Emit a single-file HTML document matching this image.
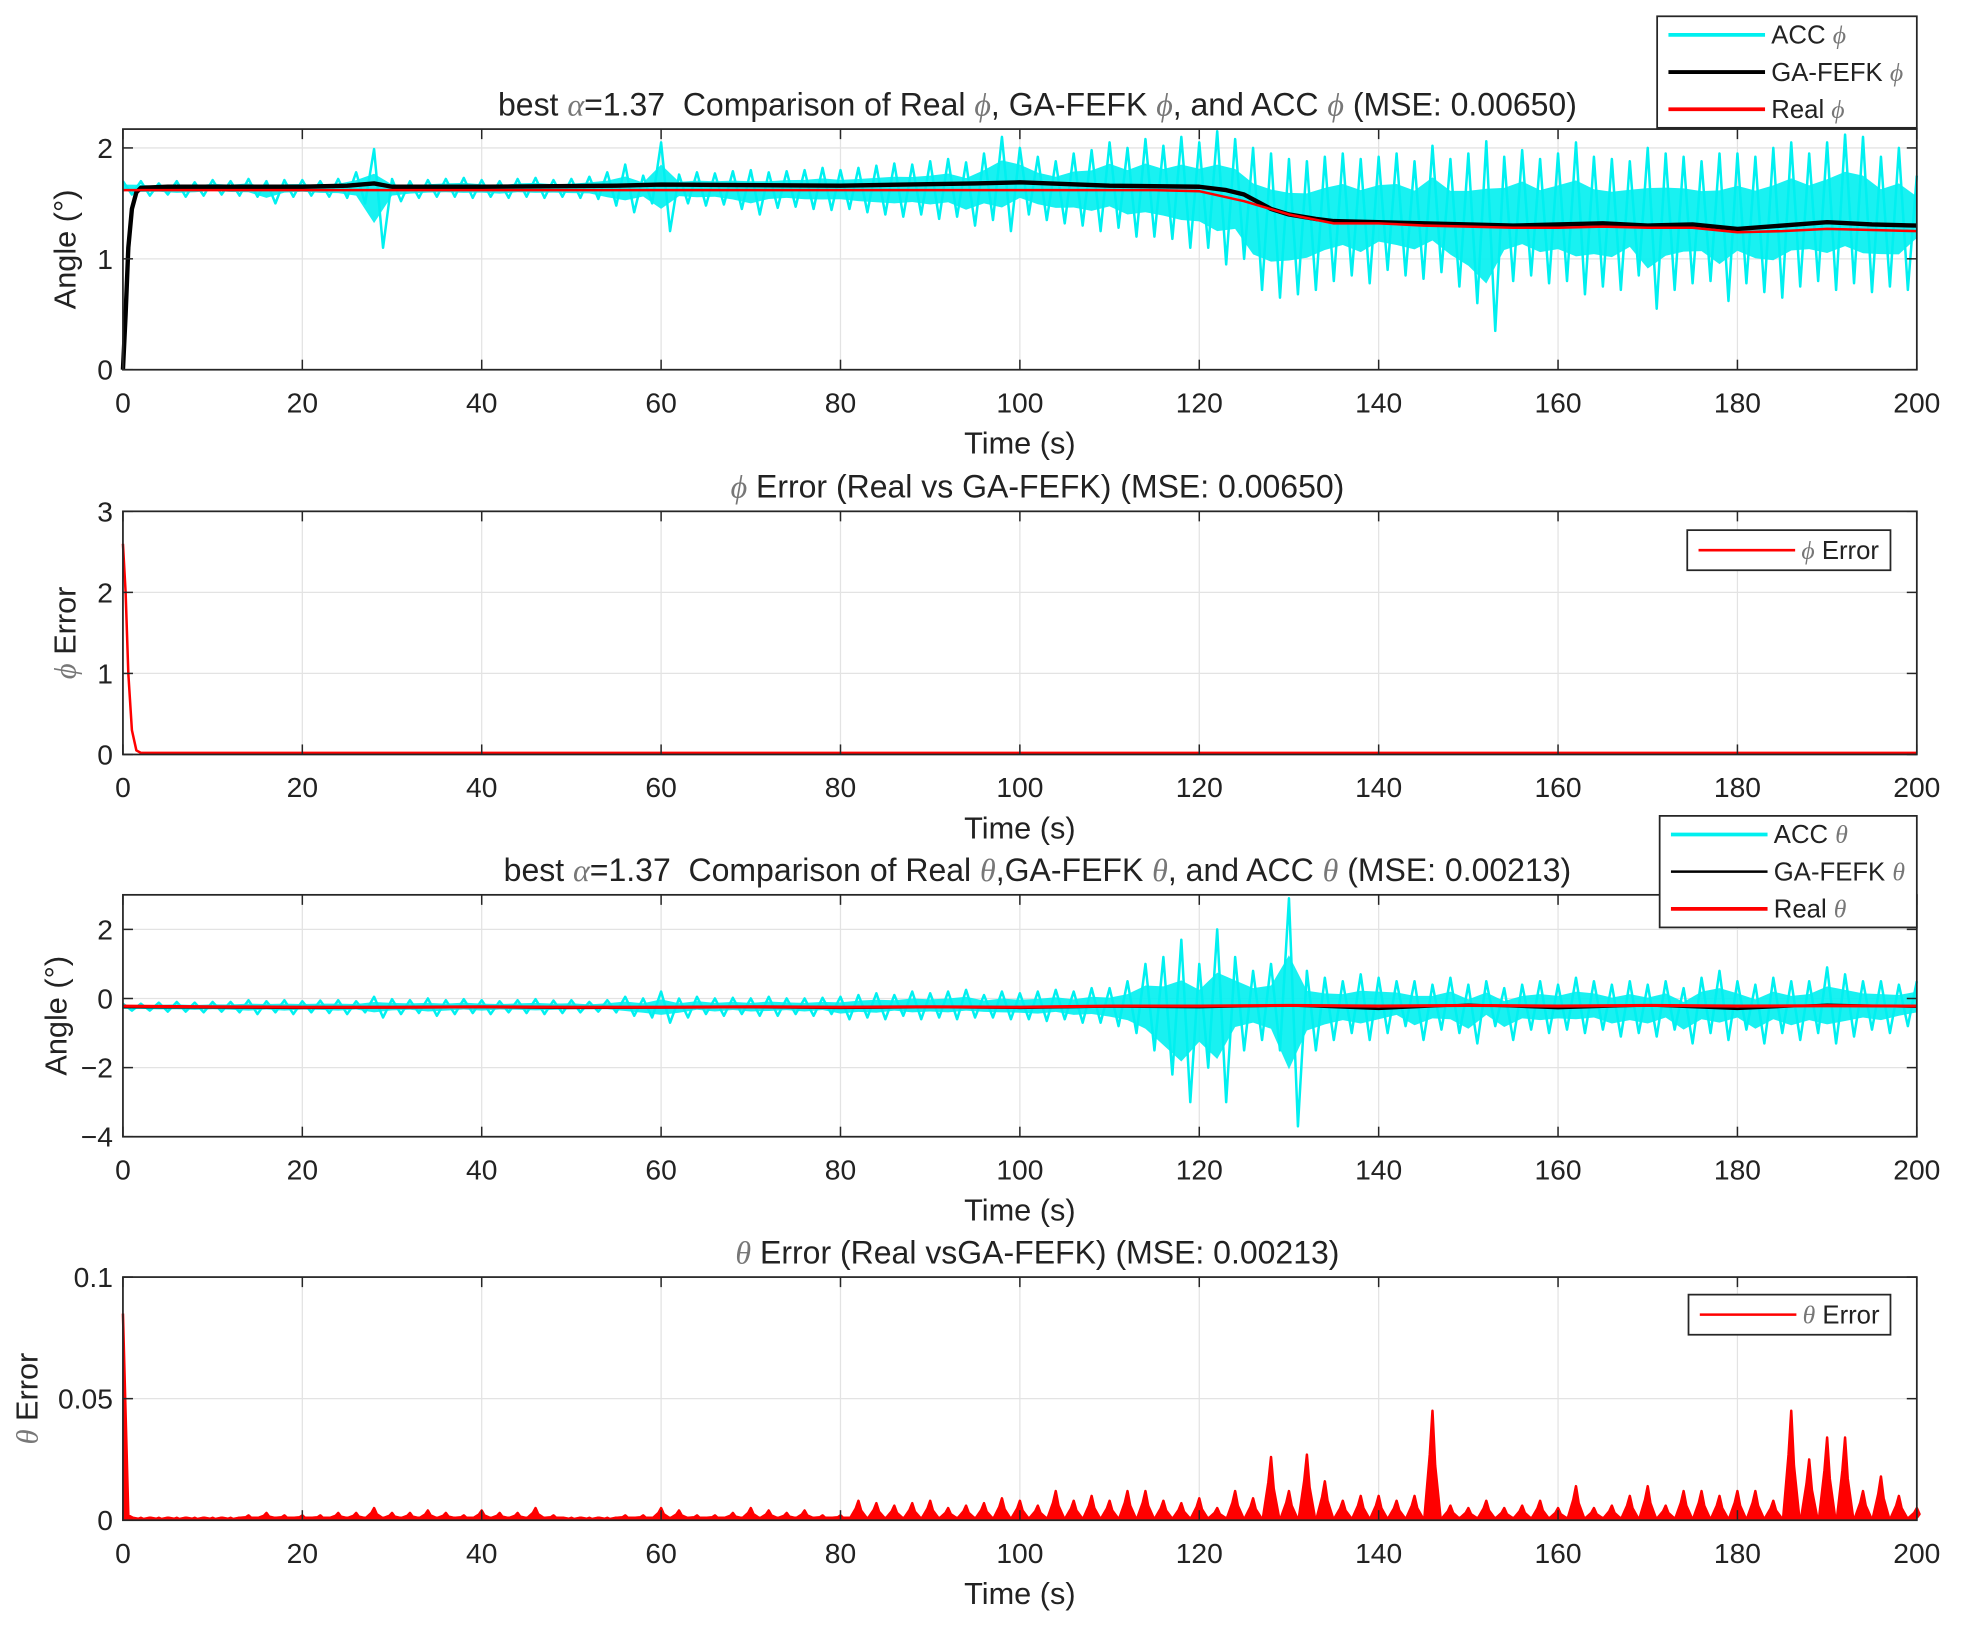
<!DOCTYPE html>
<html><head><meta charset="utf-8">
<style>
html,body{margin:0;padding:0;background:#fff;}
svg{display:block;}
text{font-family:"Liberation Sans",sans-serif;fill:#222;}
</style></head>
<body>
<svg id="fig" width="1967" height="1628" viewBox="0 0 1568 1299" preserveAspectRatio="none" xmlns="http://www.w3.org/2000/svg"></svg>
<script>
// ---------- DATA ----------
const xTicks = [0,20,40,60,80,100,120,140,160,180,200];
const phiYTicks = [0,1,2];
const errPhiYTicks = [0,1,2,3];
const thetaYTicks = [-4,-2,0,2];
const errThetaYTicks = [0,0.05,0.1];
const errThetaTickLabels = ['0','0.05','0.1'];

// ACC phi envelope (hi/lo) sampled every 2 s from 0..200
const accPhiHi = [1.70,1.70,1.68,1.70,1.69,1.71,1.70,1.72,1.70,1.71,
 1.71,1.70,1.72,1.78,1.99,1.72,1.70,1.71,1.72,1.73,
 1.71,1.70,1.72,1.73,1.71,1.72,1.74,1.78,1.85,1.75,
 2.05,1.76,1.78,1.77,1.79,1.80,1.78,1.79,1.80,1.82,
 1.80,1.82,1.84,1.86,1.85,1.88,1.90,1.87,1.95,2.10,
 2.00,1.92,1.88,1.95,1.98,2.05,2.00,2.08,2.02,2.10,
 2.05,2.15,2.08,2.00,1.95,1.90,1.88,1.92,1.95,1.90,
 1.92,1.95,1.88,2.02,1.90,1.95,2.06,1.92,1.98,1.90,
 1.95,2.05,1.92,1.90,1.88,2.00,1.95,1.92,1.88,1.95,
 1.95,1.92,2.00,2.05,1.95,2.05,2.12,2.10,1.92,2.00,1.75];
const accPhiLo = [1.58,1.57,1.58,1.56,1.57,1.58,1.57,1.56,1.50,1.56,
 1.57,1.56,1.55,1.50,1.10,1.52,1.55,1.56,1.56,1.55,
 1.56,1.55,1.56,1.55,1.56,1.55,1.54,1.48,1.42,1.50,
 1.25,1.50,1.48,1.49,1.45,1.40,1.46,1.47,1.45,1.44,
 1.45,1.42,1.40,1.38,1.40,1.36,1.38,1.30,1.35,1.25,
 1.40,1.35,1.32,1.30,1.25,1.28,1.20,1.20,1.18,1.10,
 1.10,0.95,1.00,0.72,0.65,0.68,0.72,0.80,0.85,0.78,
 0.90,0.85,0.82,0.88,0.75,0.60,0.35,0.80,0.85,0.78,
 0.80,0.68,0.75,0.72,0.85,0.55,0.72,0.78,0.80,0.62,
 0.78,0.70,0.65,0.75,0.80,0.72,0.78,0.70,0.75,0.72,1.00];
// Real phi every 5 s
const realPhi = [1.62,1.62,1.62,1.62,1.62,1.62,1.62,1.62,1.62,1.62,1.62,1.62,1.62,1.62,1.62,1.62,1.62,1.62,1.62,1.62,1.62,1.62,1.62,1.62,
 1.61,1.52,1.40,1.32,1.32,1.30,1.29,1.28,1.28,1.29,1.28,1.28,1.24,1.25,1.27,1.26,1.25];
// GA-FEFK phi
const gaPhiT = [0,0.3,0.6,1,1.5,2,5,10,20,25,28,30,40,55,60,80,95,100,110,120,123,125,128,130,133,135,140,145,150,155,160,165,170,175,180,185,190,195,200];
const gaPhiV = [0,0.5,1.1,1.45,1.6,1.64,1.65,1.65,1.65,1.66,1.68,1.65,1.65,1.66,1.67,1.66,1.68,1.69,1.66,1.65,1.62,1.58,1.45,1.40,1.36,1.34,1.33,1.32,1.31,1.30,1.31,1.32,1.30,1.31,1.27,1.30,1.33,1.31,1.30];
// phi error
const errPhiT = [0,0.3,0.6,1,1.5,2,200];
const errPhiV = [2.6,2.0,1.0,0.3,0.05,0.02,0.02];

// ACC theta envelope every 2 s
const accThHi = [-0.15,-0.15,-0.12,-0.10,-0.12,-0.10,-0.10,-0.05,-0.08,-0.05,
 -0.08,-0.06,-0.05,-0.08,0.05,-0.02,-0.05,0.00,-0.05,-0.02,
 -0.05,-0.08,-0.05,-0.02,-0.06,-0.05,-0.10,-0.05,0.05,0.00,
 0.20,0.00,0.05,0.00,0.02,0.00,0.05,0.00,0.00,0.02,
 0.05,0.10,0.15,0.10,0.20,0.15,0.20,0.25,0.10,0.20,
 0.15,0.20,0.25,0.20,0.30,0.30,0.50,1.00,1.20,1.70,
 1.00,2.00,1.20,0.80,1.00,2.90,0.80,0.60,0.50,0.70,
 0.60,0.50,0.50,0.40,0.60,0.40,0.50,0.30,0.40,0.50,
 0.40,0.60,0.50,0.40,0.50,0.40,0.50,0.30,0.60,0.80,
 0.50,0.40,0.60,0.50,0.50,0.90,0.70,0.50,0.50,0.40,0.50];
const accThLo = [-0.35,-0.35,-0.38,-0.38,-0.40,-0.38,-0.40,-0.45,-0.40,-0.45,
 -0.40,-0.42,-0.45,-0.40,-0.55,-0.45,-0.42,-0.50,-0.45,-0.42,
 -0.45,-0.40,-0.42,-0.45,-0.42,-0.40,-0.38,-0.40,-0.50,-0.55,
 -0.70,-0.55,-0.45,-0.50,-0.45,-0.50,-0.50,-0.45,-0.50,-0.45,
 -0.60,-0.55,-0.60,-0.50,-0.60,-0.55,-0.60,-0.55,-0.55,-0.60,
 -0.60,-0.65,-0.60,-0.70,-0.70,-0.80,-1.00,-1.50,-2.20,-3.00,
 -2.00,-3.00,-1.50,-1.20,-1.50,-3.70,-1.50,-1.20,-1.00,-1.20,
 -1.00,-0.80,-1.20,-0.90,-1.00,-1.30,-0.80,-1.20,-0.90,-1.00,
 -0.90,-1.00,-0.90,-1.10,-1.00,-1.10,-0.90,-1.30,-1.00,-1.20,
 -0.90,-1.30,-1.00,-1.20,-1.00,-1.30,-1.10,-0.90,-1.00,-0.80,-0.70];
// Real / GA theta every 10 s
const realTheta = [-0.22,-0.24,-0.25,-0.25,-0.24,-0.25,-0.25,-0.24,-0.25,-0.24,-0.25,-0.22,-0.22,-0.20,-0.22,-0.20,-0.22,-0.20,-0.22,-0.21,-0.22];
const gaTheta = [-0.25,-0.26,-0.27,-0.26,-0.25,-0.27,-0.26,-0.25,-0.27,-0.25,-0.27,-0.23,-0.25,-0.20,-0.30,-0.18,-0.28,-0.20,-0.30,-0.18,-0.24];
// theta error every 2 s
const errTheta = [0.085,0.001,0.001,0.001,0.001,0.001,0.001,0.002,0.003,0.002,
 0.002,0.002,0.003,0.003,0.005,0.003,0.003,0.004,0.003,0.002,
 0.004,0.003,0.003,0.005,0.002,0.001,0.001,0.001,0.002,0.002,
 0.005,0.004,0.002,0.002,0.003,0.005,0.004,0.003,0.004,0.002,
 0.002,0.008,0.007,0.006,0.007,0.008,0.005,0.006,0.007,0.009,
 0.008,0.006,0.012,0.008,0.010,0.008,0.012,0.012,0.008,0.007,
 0.009,0.005,0.012,0.009,0.026,0.012,0.027,0.016,0.008,0.010,
 0.010,0.008,0.010,0.045,0.006,0.005,0.008,0.005,0.006,0.008,
 0.005,0.014,0.005,0.006,0.010,0.014,0.006,0.012,0.012,0.010,
 0.012,0.012,0.008,0.045,0.025,0.034,0.034,0.012,0.018,0.010,0.005];

// ---------- DRAW ----------
const NS='http://www.w3.org/2000/svg';
const svg=document.getElementById('fig');
function mk(tag,attrs,parent){const e=document.createElementNS(NS,tag);for(const k in attrs)e.setAttribute(k,attrs[k]);(parent||svg).appendChild(e);return e;}
const X0=98,X1=1528;
function makeAxes(name,top,bot,ymin,ymax,yt,ytl,title,ylabel,ylabelX){
  const g=mk('g',{});
  
  
  const sx=t=>X0+(t-0)/200*(X1-X0);
  const sy=v=>bot-(v-ymin)/(ymax-ymin)*(bot-top);
  xTicks.forEach(t=>{mk('line',{x1:sx(t),x2:sx(t),y1:top,y2:bot,stroke:'#e3e3e3','stroke-width':1},g);});
  yt.forEach(v=>{mk('line',{x1:X0,x2:X1,y1:sy(v),y2:sy(v),stroke:'#e3e3e3','stroke-width':1},g);});
  const plot=mk('g',{},g);
  const axes=mk('g',{},g);
  mk('rect',{x:X0,y:top,width:X1-X0,height:bot-top,fill:'none',stroke:'#262626','stroke-width':1.4},axes);
  xTicks.forEach(t=>{
    mk('line',{x1:sx(t),x2:sx(t),y1:bot,y2:bot-8,stroke:'#262626','stroke-width':1.2},axes);
    mk('line',{x1:sx(t),x2:sx(t),y1:top,y2:top+8,stroke:'#262626','stroke-width':1.2},axes);
    const tx=mk('text',{x:sx(t),y:bot+34,'text-anchor':'middle','font-size':22.5},axes);
    
    
    tx.textContent=t;
  });
  yt.forEach((v,i)=>{
    mk('line',{x1:X0,x2:X0+8,y1:sy(v),y2:sy(v),stroke:'#262626','stroke-width':1.2},axes);
    mk('line',{x1:X1,x2:X1-8,y1:sy(v),y2:sy(v),stroke:'#262626','stroke-width':1.2},axes);
    const tx=mk('text',{x:X0-8,y:sy(v)+8,'text-anchor':'end','font-size':22.5},axes);
    
    
    tx.textContent=ytl?ytl[i]:(v<0?'\u2212'+(-v):v);
  });
  const xl=mk('text',{x:(X0+X1)/2,y:bot+67,'text-anchor':'middle','font-size':24.5},g);
  
  
  xl.textContent='Time (s)';
  const tt=mk('text',{x:(X0+X1)/2+14,y:top-11,'text-anchor':'middle','font-size':25.5},g);
  
  
  tt.innerHTML=title;
  const yl=mk('text',{x:ylabelX,y:(top+bot)/2,'text-anchor':'middle','font-size':24.5,transform:`rotate(-90 ${ylabelX} ${(top+bot)/2})`},g);
  
  
  yl.innerHTML=ylabel;
  return {g,plot,sx,sy};
}
function line(ax,pts,color,w,name){
  const d=pts.map((p,i)=>(i?'L':'M')+ax.sx(p[0]).toFixed(2)+' '+ax.sy(p[1]).toFixed(2)).join('');
  const p=mk('path',{d,fill:'none',stroke:color,'stroke-width':w,'stroke-linejoin':'round'},ax.plot);
  
  
  return p;
}
function band(ax,hi,lo,step,color,op,name){
  const up=hi.map((h,i)=>[i*step,h]);
  const dn=lo.map((l,i)=>[i*step,l]).reverse();
  const pts=up.concat(dn);
  const d=pts.map((p,i)=>(i?'L':'M')+ax.sx(p[0]).toFixed(2)+' '+ax.sy(p[1]).toFixed(2)).join('')+'Z';
  const p=mk('path',{d,fill:color,'fill-opacity':op,stroke:'none'},ax.plot);
  
  
}
function zig(hi,lo,step){
  const pts=[];
  hi.forEach((h,i)=>{const t=i*step;pts.push([t,h]);if(i<hi.length-1)pts.push([Math.min(200,t+step/2),lo[i]]);});
  return pts;
}
function legend(x,y,w,h,entries,name){
  const g=mk('g',{});
  
  
  mk('rect',{x,y,width:w,height:h,fill:'#fff',stroke:'#262626','stroke-width':1.4},g);
  entries.forEach((e,i)=>{
    const cy=y+(h/entries.length)*(i+0.5);
    mk('line',{x1:x+9,x2:x+86,y1:cy,y2:cy,stroke:e.c,'stroke-width':e.w},g);
    const t=mk('text',{x:x+91,y:cy+7,'font-size':20.5},g);
    
    
    t.innerHTML=e.t;
  });
}
const phiS='<tspan font-family="Liberation Serif" font-style="italic" fill="#777">\u03d5</tspan>';
const thS='<tspan font-family="Liberation Serif" font-style="italic" fill="#777">\u03b8</tspan>';
const alS='<tspan font-family="Liberation Serif" font-style="italic" fill="#777">\u03b1</tspan>';

// Plot 1
const a1=makeAxes('phi-comparison-chart',103,295,0,2.17,phiYTicks,null,
 `best ${alS}=1.37\u00a0\u00a0Comparison of Real ${phiS}, GA-FEFK ${phiS}, and ACC ${phiS} (MSE: 0.00650)`,'Angle (°)',60);
band(a1,accPhiHi.map((h,i)=>h-(h-accPhiLo[i])*0.25),accPhiLo.map((l,i)=>l+(accPhiHi[i]-l)*0.25),2,'#00f0f0',0.9,'acc-phi-band');
line(a1,zig(accPhiHi,accPhiLo,2),'#00f0f0',2,'acc-phi-line');
line(a1,gaPhiT.map((t,i)=>[t,gaPhiV[i]]),'#000',3.5,'ga-fefk-phi-line');
line(a1,realPhi.map((v,i)=>[i*5,v]),'#ff0000',2,'real-phi-line');
legend(1321,13,207,89,[{c:'#00f0f0',w:3,t:'ACC '+phiS},{c:'#000',w:3,t:'GA-FEFK '+phiS},{c:'#ff0000',w:3,t:'Real '+phiS}],'phi-legend');

// Plot 2
const a2=makeAxes('phi-error-chart',408,602,0,3,errPhiYTicks,null,
 `${phiS} Error (Real vs GA-FEFK) (MSE: 0.00650)`,phiS+' Error',60);
line(a2,errPhiT.map((t,i)=>[t,errPhiV[i]]),'#ff0000',2,'phi-error-line');
legend(1345,423,162,32,[{c:'#ff0000',w:2,t:phiS+' Error'}],'phi-error-legend');

// Plot 3
const a3=makeAxes('theta-comparison-chart',714,907,-4,3,thetaYTicks,null,
 `best ${alS}=1.37\u00a0\u00a0Comparison of Real ${thS},GA-FEFK ${thS}, and ACC ${thS} (MSE: 0.00213)`,'Angle (°)',53);
band(a3,accThHi.map((h,i)=>h-(h-accThLo[i])*0.25),accThLo.map((l,i)=>l+(accThHi[i]-l)*0.25),2,'#00f0f0',0.9,'acc-theta-band');
line(a3,zig(accThHi,accThLo,2),'#00f0f0',2,'acc-theta-line');
line(a3,gaTheta.map((v,i)=>[i*10,v]),'#000',2,'ga-fefk-theta-line');
line(a3,realTheta.map((v,i)=>[i*10,v]),'#ff0000',2.5,'real-theta-line');
legend(1323,651,205,89,[{c:'#00f0f0',w:3,t:'ACC '+thS},{c:'#000',w:2,t:'GA-FEFK '+thS},{c:'#ff0000',w:3,t:'Real '+thS}],'theta-legend');

// Plot 4
const a4=makeAxes('theta-error-chart',1019,1213,0,0.1,errThetaYTicks,errThetaTickLabels,
 `${thS} Error (Real vsGA-FEFK) (MSE: 0.00213)`,thS+' Error',30);
(function(){
  const pts=[[0,errTheta[0]],[0.6,0.002]];
  errTheta.forEach((v,i)=>{if(i===0)return;const t=i*2;pts.push([t-0.9,0.001]);pts.push([t-0.3,v*0.6]);pts.push([t,v]);pts.push([t+0.3,v*0.5]);pts.push([Math.min(200,t+0.9),0.001]);});
  const d=pts.map((p,i)=>(i?'L':'M')+a4.sx(p[0]).toFixed(2)+' '+a4.sy(p[1]).toFixed(2)).join('')+'L'+a4.sx(200)+' '+a4.sy(0)+'L'+a4.sx(0)+' '+a4.sy(0)+'Z';
  const f=mk('path',{d,fill:'#ff0000',stroke:'none'},a4.plot);
  
  
  line(a4,pts,'#ff0000',2,'theta-error-line');
})();
legend(1346,1033,161,32,[{c:'#ff0000',w:2,t:thS+' Error'}],'theta-error-legend');
</script>
</body></html>
